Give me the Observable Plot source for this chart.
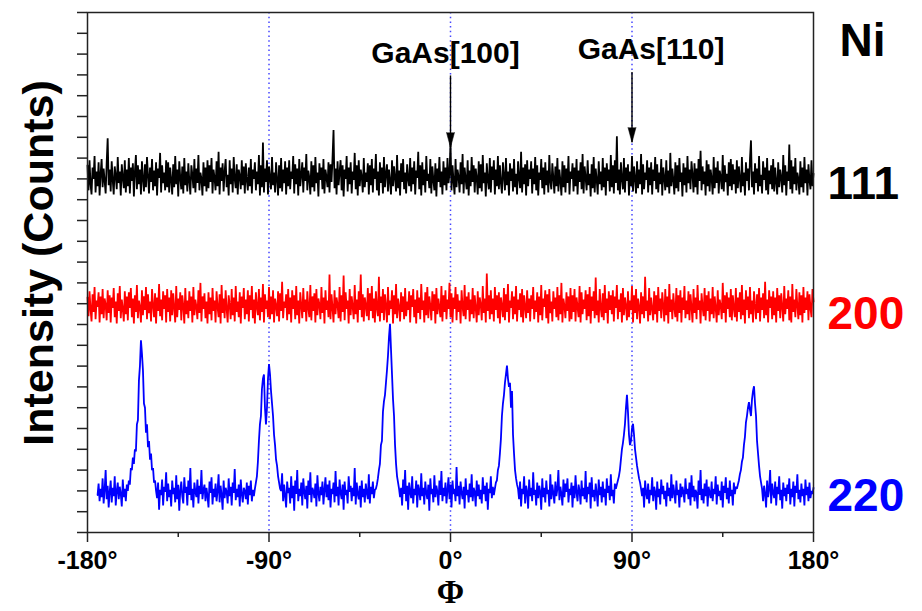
<!DOCTYPE html>
<html><head><meta charset="utf-8">
<script src="https://cdn.jsdelivr.net/npm/d3@7"></script>
<script src="https://cdn.jsdelivr.net/npm/@observablehq/plot@0.6"></script>
<style>
body{margin:0;background:#fff}
#chart svg{display:block}
</style>
</head><body><div id="chart"></div>
<script>
// Phi scans of Ni {111}, {200}, {220}; 0.5° steps. Each row: [start angle, values...].
// Raw counts; 111 and 200 are offset vertically for clarity.
const phiStep = 0.5;

const ni111Rows = [
[-180, 160,40,185,70,20,150,95,205,30,130,60,175,15,120,190,55,145,85,25,170,290,65,140,35,180,90,20,155,110,45,200,75,130,15,165,100,50,185,30,140],
[-160, 60,195,25,150,85,170,10,130,210,45,160,70,140,20,180,95,35,165,55,200,110,25,150,80,190,40,135,60,175,15,145,100,220,30,160,75,125,40,185,55],
[-140, 175,30,150,90,20,165,55,205,70,140,10,180,100,45,155,25,195,65,130,35,170,85,20,160,115,50,190,30,145,75,210,40,125,95,15,175,60,150,35,185],
[-120, 50,160,80,195,25,140,100,40,180,60,225,20,150,85,170,35,130,190,55,115,15,185,70,145,30,200,95,50,165,20,140,110,45,185,65,155,25,170,90,40],
[-100, 150,60,190,25,140,95,175,40,130,70,210,15,160,55,270,30,145,80,185,20,155,100,45,200,65,125,30,175,90,15,160,50,195,35,140,75,180,20,150,60],
[-80, 185,45,130,95,205,25,165,70,145,15,190,60,115,175,30,150,85,215,40,135,100,20,180,55,160,35,200,75,125,10,170,90,150,45,190,25,140,105,55,175],
[-60, 30,165,80,195,330,50,145,20,180,65,125,185,40,160,10,140,95,205,35,150,70,175,25,130,90,220,45,160,15,185,60,140,105,30,195,55,125,80,170,20],
[-40, 160,65,190,30,145,95,215,40,130,15,175,75,150,25,200,55,120,165,35,140,85,20,185,60,155,100,35,210,50,135,15,170,80,190,45,125,25,165,95,60],
[-20, 195,35,150,70,180,20,135,100,225,45,160,15,175,65,140,30,205,85,120,50,190,25,155,90,40,170,10,145,80,200,55,130,20,180,65,150,40,195,75,120],
[0, 270,40,160,85,20,190,55,140,105,30,175,70,215,25,150,95,45,185,15,135,60,200,80,160,30,145,100,20,180,50,165,35,210,75,125,10,170,90,45,195],
[20, 30,155,90,185,20,140,60,205,45,160,75,25,175,110,40,195,65,130,15,170,85,145,35,190,55,120,20,180,100,50,225,30,150,70,165,15,185,60,140,95],
[40, 180,25,145,70,200,40,160,15,125,90,190,50,150,20,175,65,135,30,210,80,45,170,100,25,155,60,195,35,140,85,15,180,55,160,30,145,75,205,20,130],
[60, 95,170,35,150,60,190,20,135,80,175,45,215,25,155,100,40,185,65,120,10,165,50,200,30,145,90,20,180,70,130,40,195,55,150,15,170,85,140,35,210],
[80, 55,160,25,185,75,300,40,140,20,175,95,45,195,30,150,85,165,15,130,60,205,35,155,100,25,180,50,140,70,215,20,165,45,125,90,185,30,150,65,175],
[100, 20,140,85,200,45,165,30,125,70,190,15,150,100,40,185,55,135,25,220,60,145,90,20,175,50,160,35,195,80,125,10,170,65,150,30,205,75,140,45,180],
[120, 115,30,170,55,145,20,190,85,230,40,155,70,130,15,185,60,165,35,140,95,20,200,50,150,75,180,25,135,105,45,210,35,160,80,120,15,175,60,190,40],
[140, 165,70,140,25,185,50,155,95,30,200,60,125,15,175,85,145,40,190,280,55,130,20,170,75,145,35,205,60,115,25,180,90,150,40,195,20,135,70,160,45],
[160, 190,35,150,80,20,175,55,140,100,30,210,65,160,15,130,85,260,45,185,25,155,70,195,40,125,95,20,180,55,150,30,200,75,140,15,165,90,45,185,60],
[180, 120]
];

const ni200Rows = [
[-180, 140,50,170,85,25,155,70,190,35,125,95,165,20,145,60,180,40,135,105,30,175,65,150,20,140,90,185,45,120,15,160,75,195,40,130,85,25,170,60,145],
[-160, 30,165,90,185,45,135,15,150,70,200,40,125,95,20,175,55,145,80,190,35,155,65,120,25,180,100,45,160,15,140,75,205,50,130,30,170,85,150,20,180],
[-140, 70,140,25,175,55,160,90,20,195,45,135,80,165,30,150,100,15,185,60,125,40,170,75,145,20,190,55,130,95,35,175,65,210,25,145,85,160,40,120,15],
[-120, 165,60,140,30,185,75,125,20,170,95,45,155,15,200,65,135,40,175,85,20,150,105,35,180,55,140,25,195,70,120,45,165,15,145,90,185,35,130,60,175],
[-100, 25,150,80,195,40,130,15,165,95,55,180,30,140,70,205,20,155,85,125,45,190,35,145,60,175,20,135,100,50,170,25,160,75,215,40,120,90,155,30,180],
[-80, 60,140,20,175,85,150,35,195,55,125,15,165,100,40,185,70,130,25,170,90,45,200,30,145,75,160,20,180,55,135,105,35,190,65,140,15,175,80,125,45],
[-60, 250,35,155,90,20,175,60,140,105,40,190,25,150,70,245,30,165,85,125,15,180,55,145,95,35,200,60,130,20,170,80,250,45,155,25,140,100,50,185,30],
[-40, 160,75,195,40,135,20,170,90,50,240,25,145,65,180,30,155,100,20,190,55,125,85,175,15,150,60,205,40,135,95,25,165,70,145,35,185,50,120,80,170],
[-20, 20,150,95,180,45,130,15,175,65,140,35,205,80,125,20,165,55,190,40,145,100,30,170,75,155,15,185,60,135,90,45,195,25,150,70,175,35,130,85,210],
[0, 45,160,20,140,85,190,30,155,70,125,15,175,95,50,200,35,145,80,165,25,130,60,185,40,150,90,20,170,55,140,105,30,195,65,135,20,255,75,150,35],
[20, 175,60,135,25,190,80,150,40,165,15,140,100,45,185,30,155,70,205,20,125,90,170,35,145,60,195,25,130,80,160,45,180,20,150,95,40,175,65,135,25],
[40, 150,85,190,35,125,70,165,20,145,55,200,30,135,95,175,40,155,15,180,65,120,25,170,85,140,45,190,30,150,60,210,20,135,100,40,165,75,145,25,185],
[60, 35,150,70,180,25,140,95,45,195,20,165,60,130,85,175,30,155,50,190,15,145,75,170,40,236,55,125,20,180,90,45,160,30,200,65,135,15,170,80,150],
[80, 60,175,25,145,90,200,35,130,70,160,20,185,55,140,100,30,170,45,125,80,195,20,150,65,180,35,135,95,15,165,60,145,40,240,75,125,25,185,55,140],
[100, 85,30,170,60,150,20,190,75,135,40,165,100,25,180,55,145,15,205,70,130,35,160,90,45,185,25,150,65,175,20,140,80,195,40,125,60,170,30,155,95],
[120, 20,180,65,140,35,200,80,125,15,160,95,50,185,30,150,75,170,25,135,60,190,40,145,90,20,175,55,130,100,35,210,65,150,20,165,85,140,45,180,30],
[140, 150,90,45,185,25,140,70,165,35,200,55,130,15,175,80,145,40,190,60,125,20,170,100,35,155,65,185,25,140,80,160,40,215,55,130,20,175,90,145,35],
[160, 170,55,140,20,185,75,150,40,160,95,25,195,60,135,85,175,30,145,20,205,70,130,45,180,100,35,165,55,150,20,190,65,140,80,170,30,155,90,45,180],
[180, 120]
];

const ni220Rows = [
[-175, 180,235,150,210,170,260,140,205,300,160,225,120,195,250,145,215,175,270,130,200,240,160,220,185,125,255,170,210,150,230],
[-160, 200,250,230,310,300,360,330,400,390,520,540,730,800,924,860,780,620,600,480,520,410,440,350,380,300,310,240,250,200],
[-145.5, 165,240,110,205,180,255,130,220,195,290,150,235,170,205,125,250,185,215,145,275],
[-135.5, 160,230,105,200,245,175,140,265,190,220,130,250,180,310,155,210,120,240,195,170],
[-125.5, 255,140,225,185,300,160,205,230,150,215,175,120,245,190,265,135,210,170,235,150],
[-115.5, 200,280,145,225,180,110,250,165,215,195,140,260,175,220,130,240,190,305,155,210],
[-105.5, 170,230,125,255,185,145,215,200,160,240,135,225,180,250,150,205,175],
[-97, 210,240,270,340,440,520,560,690,740,760,600,520,600,740,810,760,680,620,560,470,420,350,320,270,240,210],
[-84, 200,285,150,230,175,120,245,190,215,140,270,165,225,105,250,185,300,150,210,175],
[-74, 240,130,260,195,160,225,115,250,180,290,145,215,200,165,235,125,275,190,150,220],
[-64, 180,245,135,205,265,170,230,155,250,120,210,185,240,145,295,175,220,130,255,190],
[-54, 160,230,110,245,180,205,140,270,195,225,150,215,175,310,135,240,185,160,225,120],
[-44, 250,170,210,145,235,190,160,280,140,220,185,245,165,205],
[-37, 210,230,260,300,330,420,440,580,630,660,720,780,850,940,1003,880,760,640,560,420,330,270,240,210],
[-25, 170,215,130,255,185,300,150,225,110,240,195,165,270,140,210,180,250,120,230,200],
[-15, 155,285,175,215,135,245,190,160,230,105,260,185,210,145,275,170,225,195,130,250],
[-5, 180,295,150,215,175,240,140,205,265,160,230,120,250,185,210,150,315,175,225,135],
[5, 245,190,160,220,115,260,180,205,145,235,170,280,150,215,195,125,250,175,230,160],
[15, 205,140,265,185,225,150,240,110,210,190,270,165,220,180],
[22, 210,240,250,300,320,380,450,560,620,660,720,760,803,740,700,720,600,680,470,380,300,260,230,210],
[34, 160,245,125,210,185,270,140,225,195,115,255,175,215,150,290,180,205,130,240,165],
[44, 225,195,110,260,170,215,145,250,185,205,125,280,160,230,190,140,245,175,210,300],
[54, 155,220,185,130,255,170,235,195,260,145,210,180,240,120,225,165,275,190,150,230],
[64, 200,135,250,175,215,160,295,145,220,185,240,115,265,170,205,150,235,190,125,255],
[74, 180,220,145,245,170,210,130,260,190,225,155,280,175,205,140,235],
[82, 210,230,250,270,300,350,400,430,470,520,600,662,580,470,420,440,500,523,470,400,360,320,290,260,240,210],
[95, 175,215,120,250,190,160,235,140,205,180,265,150,220,195,110,245,170,210,135,255],
[105, 185,225,160,200,125,240,175,215,150,280,165,230,190,140,250,180,205,120,235,170],
[115, 220,195,145,260,185,210,160,240,130,275,170,225,150,205,190,115,250,180,300,155],
[125, 210,140,235,175,255,125,220,190,165,245,150,210,185,270,135,230,175,200,155,245],
[135, 120,225,190,265,160,215,140,250,175,205,130,240,185,220],
[142, 210,230,250,280,300,340,360,420,460,530,560,600,627,590,560,640,680,703,620,560,440,380,320,270,240,210],
[155, 150,225,185,120,250,170,210,300,140,235,190,165,245,130,220,185,270,155,205,115],
[165, 240,175,215,150,230,185,260,135,210,170,245,125,225,190,280,160,205,145,235,175],
[175, 210,130,255,180,220,150,240,165,200,185,215]
];

const seriesNames = ["111", "200", "220"];
const seriesRows = [ni111Rows, ni200Rows, ni220Rows];
const seriesOffsets = [1605, 990, 0];
const seriesLevels = [100, 100, 195];
const seriesColors = ["#000000", "#ff0000", "#0000ff"];

const xTicksMajor = [-180, -90, 0, 90, 180];
const xTicksMinor = [-135, -45, 45, 135];
const yTicks = d3.range(0, 2501, 100);
const guideAngles = [-90, 0, 90];

const annotLabels = ["GaAs[100]", "GaAs[110]"];
const annotAngles = [0, 90];
const annotTop = [2195, 2211];
const annotTip = [1851, 1875];
const annotTextY = [2303, 2325];

const series = seriesNames.map((name, s) => ({
  name,
  color: seriesColors[s],
  points: seriesRows[s].flatMap(([start, ...vals]) =>
    vals.map((v, i) => ({phi: start + i * phiStep, y: v + seriesOffsets[s]})))
}));
const annots = annotLabels.map((label, i) => ({label, angle: annotAngles[i], top: annotTop[i], tip: annotTip[i], ty: annotTextY[i]}));

const labelDy = [21, 23, 19];

const chart = Plot.plot({
  width: 922,
  height: 611,
  marginLeft: 87,
  marginRight: 109,
  marginTop: 12,
  marginBottom: 79,
  style: {fontFamily: "'Liberation Sans', Arial, Helvetica, sans-serif", fontSize: "25px", fontWeight: "bold", background: "#fff", color: "#000", overflow: "visible"},
  x: {domain: [-180, 180]},
  y: {domain: [0, 2500]},
  marks: [
    Plot.ruleX(guideAngles, {stroke: "#4646ff", strokeWidth: 1.5, strokeDasharray: "1.5,3.2"}),
    ...series.map(s => Plot.line(s.points, {x: "phi", y: "y", stroke: s.color, strokeWidth: 1.8, strokeLinejoin: "miter", strokeMiterlimit: 2})),
    Plot.frame({stroke: "#222", strokeWidth: 1.5}),
    Plot.axisY(yTicks, {tickSize: 10, tickFormat: () => "", strokeWidth: 1.5, stroke: "#222", label: null}),
    Plot.axisX(xTicksMajor, {tickSize: 10, tickPadding: 9, tickFormat: d => `${d}°`, strokeWidth: 1.5, stroke: "#222", label: null, fontSize: 25, fontWeight: "bold"}),
    Plot.axisX(xTicksMinor, {tickSize: 5, tickFormat: () => "", strokeWidth: 1.5, stroke: "#222", label: null}),
    Plot.ruleX(annots, {x: "angle", y1: "top", y2: "tip", stroke: "#000", strokeWidth: 1.4}),
    Plot.vector(annots, {x: "angle", y: "tip", length: 15, rotate: 180, anchor: "end", shape: "spike", r: 4, fill: "#000", stroke: "#000", strokeWidth: 0.5}),
    Plot.text([annots[0]], {x: "angle", y: "ty", text: "label", dx: -5, fontSize: 30, fontWeight: "bold", lineAnchor: "middle"}),
    Plot.text([annots[1]], {x: "angle", y: "ty", text: "label", dx: 19, fontSize: 30, fontWeight: "bold", lineAnchor: "middle"}),
    ...series.map((s, i) => Plot.text([s.name], {x: () => 180, y: () => seriesLevels[i] + seriesOffsets[i], dx: 14, dy: labelDy[i], textAnchor: "start", lineAnchor: "bottom", fill: s.color, fontSize: 46, fontWeight: "bold"})),
    Plot.text(["Ni"], {frameAnchor: "top-right", dx: 26, dy: 43, textAnchor: "start", lineAnchor: "bottom", fontSize: 46, fontWeight: "bold"}),
    Plot.text(["Intensity (Counts)"], {frameAnchor: "left", rotate: -90, textAnchor: "middle", dx: -35, dy: -9.5, lineAnchor: "bottom", fontSize: 43, fontWeight: "bold"}),
    Plot.text(["Φ"], {frameAnchor: "bottom", dy: 70, lineAnchor: "bottom", fontSize: 33, fontWeight: "bold", fontFamily: "'Liberation Serif', 'Times New Roman', serif"})
  ]
});
document.getElementById("chart").appendChild(chart);
</script>
</body></html>
